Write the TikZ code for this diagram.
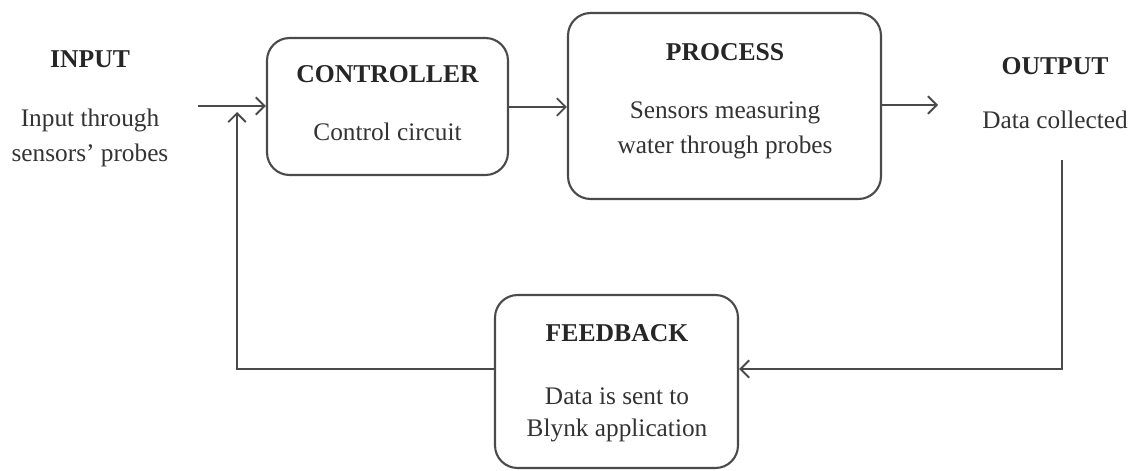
\documentclass[tikz,border=0pt]{standalone}
\usepackage{fontspec}
\setmainfont{Liberation Serif}
\usetikzlibrary{arrows.meta}
\definecolor{ink}{HTML}{4A4A4A}
\definecolor{txt}{HTML}{333333}
\definecolor{hd}{HTML}{262626}
\begin{document}
\begin{tikzpicture}[x=0.02cm,y=-0.02cm,
  box/.style={draw=ink,line width=1.2pt,rounded corners=0.45cm,inner sep=0pt},
  head/.style={font=\bfseries\fontsize{14.6}{17}\selectfont,text=hd,inner sep=0pt,anchor=base},
  body/.style={font=\fontsize{14.4}{17}\selectfont,text=txt,inner sep=0pt,anchor=base},
  conn/.style={draw=ink,line width=1.1pt},
  arr/.style={conn,-{Straight Barb[length=5pt,width=10pt,line width=1.1pt]}}]
\useasboundingbox (0,0) rectangle (1141,470);
% boxes
\node[box,minimum width=4.82cm,minimum height=2.74cm] (ctrl) at (387.5,106.5) {};
\node[box,minimum width=6.26cm,minimum height=3.72cm] (proc) at (724.5,106) {};
\node[box,minimum width=4.86cm,minimum height=3.46cm] (fb) at (616.5,381.5) {};
% texts
\node[head] (inT) at (90,67) {INPUT};
\node[body] (inB) at (90,126) {Input through};
\node[body] (inC) at (90,161) {sensors' probes};
\node[head] (ctT) at (387.5,82) {CONTROLLER};
\node[body] (ctB) at (387.5,140) {Control circuit};
\node[head] (prT) at (725,60) {PROCESS};
\node[body] (prB) at (725,118) {Sensors measuring};
\node[body] (prC) at (725,153) {water through probes};
\node[head] (ouT) at (1055,74) {OUTPUT};
\node[body] (ouB) at (1055,128) {Data collected};
\node[head] (fbT) at (617,341) {FEEDBACK};
\node[body] (fbB) at (617,404) {Data is sent to};
\node[body] (fbC) at (617,436) {Blynk application};
% connectors
\coordinate (inS) at (198,106);
\coordinate (loopTop) at (237,112);
\coordinate (outS) at (938,105);
\coordinate (oDown) at (1062,160);
\coordinate (oCorner) at (1062,369);
\coordinate (lCorner) at (237,369);
\draw[arr] (inS) -- (ctrl.west |- inS);
\draw[arr] (ctrl.east |- 0,107) -- (proc.west |- 0,107);
\draw[arr] (proc.east |- outS) -- (outS);
\draw[arr] (oDown) -- (oCorner) -- (fb.east |- oCorner);
\draw[arr] (fb.west |- lCorner) -- (lCorner) -- (loopTop);
\end{tikzpicture}
\end{document}
